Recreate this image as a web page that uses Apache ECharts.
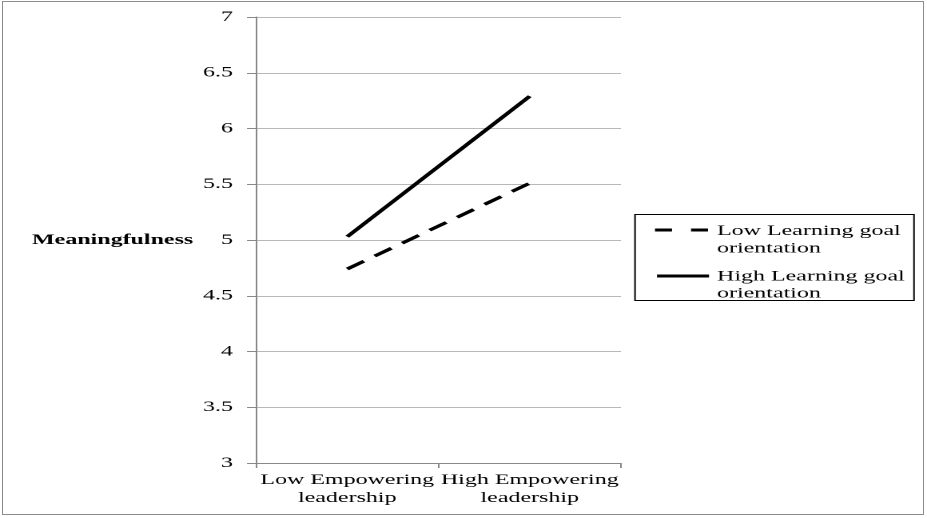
<!DOCTYPE html>
<html><head><meta charset="utf-8">
<script src="https://cdn.jsdelivr.net/npm/echarts@6/dist/echarts.min.js"></script>
<style>
html,body{margin:0;padding:0;background:#fff;overflow:hidden}
#wrap{position:relative;width:927px;height:518px;overflow:hidden}
#c{position:absolute;left:0;top:0;width:580px;height:518px;transform:scaleX(1.59828);transform-origin:0 0}
#frame{position:absolute;left:2px;top:1px;width:920px;height:512px;border:1px solid #8c8c8c;pointer-events:none}
</style>
</head><body><div id="wrap"><div id="c"></div><div id="frame"></div></div>
<script>
const categories = ['Low Empowering\nleadership', 'High Empowering\nleadership'];
const lowLGO = [4.74, 5.51];
const highLGO = [5.03, 6.29];
const seriesNames = ['Low Learning goal\norientation', 'High Learning goal\norientation'];
const yTicks = {min: 3, max: 7, interval: 0.5};
const yTitle = 'Meaningfulness';

const S = 927 / 580; // horizontal stretch of the reference
const X = v => v / S;
const serif = '"Liberation Serif", "Times New Roman", serif';
const chart = echarts.init(document.getElementById('c'), null, {renderer: 'canvas', devicePixelRatio: 2});
chart.setOption({
  animation: false,
  backgroundColor: '#fff',
  grid: {left: X(256), right: 580 - X(621), top: 17, bottom: 55},
  graphic: [
    {type: 'text', x: X(32), y: 240, style: {text: yTitle, font: 'bold 15px ' + serif, fill: '#000', verticalAlign: 'middle'}},
    {type: 'rect', shape: {x: X(635), y: 214.5, width: X(914) - X(635), height: 86}, style: {fill: 'none', stroke: '#000', lineWidth: 1}},
    {type: 'line', shape: {x1: X(655), y1: 230, x2: X(672), y2: 230}, style: {stroke: '#000', lineWidth: 3}},
    {type: 'line', shape: {x1: X(691), y1: 230, x2: X(708), y2: 230}, style: {stroke: '#000', lineWidth: 3}},
    {type: 'text', x: X(717), y: 222.5, style: {text: seriesNames[0], font: '15px ' + serif, fill: '#000', lineHeight: 17.5, verticalAlign: 'top'}},
    {type: 'line', shape: {x1: X(657), y1: 276, x2: X(709), y2: 276}, style: {stroke: '#000', lineWidth: 3}},
    {type: 'text', x: X(717), y: 268, style: {text: seriesNames[1], font: '15px ' + serif, fill: '#000', lineHeight: 17, verticalAlign: 'top'}}
  ],
  xAxis: {
    type: 'category', data: categories, boundaryGap: true,
    axisLine: {lineStyle: {color: '#888'}},
    axisTick: {show: true, length: 5, lineStyle: {color: '#888'}},
    axisLabel: {fontFamily: serif, fontSize: 15, color: '#000', lineHeight: 18, margin: 8, interval: 0}
  },
  yAxis: {
    type: 'value', min: yTicks.min, max: yTicks.max, interval: yTicks.interval,
    axisLine: {show: true, lineStyle: {color: '#888'}},
    axisTick: {show: true, length: X(9), lineStyle: {color: '#888'}},
    splitLine: {lineStyle: {color: '#b8b8b8'}},
    axisLabel: {fontFamily: serif, fontSize: 15, color: '#000', margin: X(23)}
  },
  series: [
    {name: seriesNames[0], type: 'line', data: lowLGO, symbol: 'none', lineStyle: {color: '#000', width: 3, type: [13, 8.5]}, itemStyle: {color: '#000'}},
    {name: seriesNames[1], type: 'line', data: highLGO, symbol: 'none', lineStyle: {color: '#000', width: 3}, itemStyle: {color: '#000'}}
  ]
});
</script></body></html>
